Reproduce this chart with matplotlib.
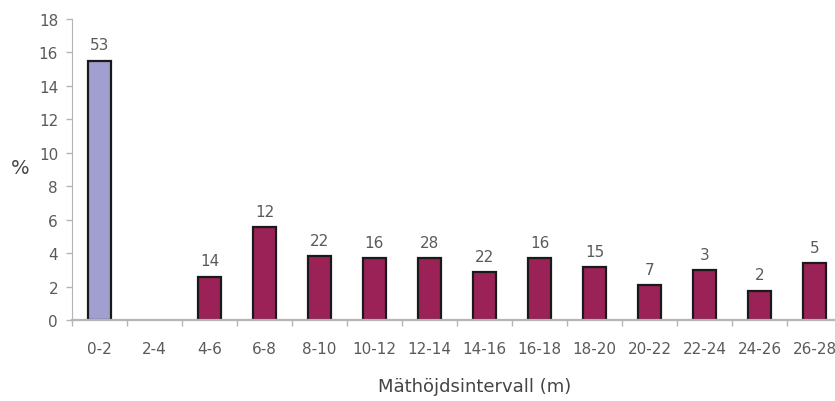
import matplotlib
matplotlib.use("Agg")
import matplotlib.pyplot as plt
import numpy as np

# height intervals, share of trees (%) and number of trees per interval
intervals = ["0-2", "2-4", "4-6", "6-8", "8-10", "10-12", "12-14",
             "14-16", "16-18", "18-20", "20-22", "22-24", "24-26", "26-28"]
percent = [15.5, 0, 2.6, 5.55, 3.8, 3.7, 3.7, 2.85, 3.7, 3.15, 2.1, 3.0, 1.75, 3.4]
counts = [53, None, 14, 12, 22, 16, 28, 22, 16, 15, 7, 3, 2, 5]

plt.rcParams['font.family'] = ['DejaVu Sans']
grey = "#5a5a5a"
axis_grey = "#b5b5b5"

fig = plt.figure(figsize=(8.35, 4.02), dpi=100)
ax = fig.add_axes([72 / 835, 81 / 402, 770 / 835, 301 / 402])

x = np.arange(len(intervals))
colors = ["#a09fcf"] + ["#9b2257"] * (len(intervals) - 1)
bars = ax.bar(x, percent, width=0.42, color=colors, edgecolor="#1a1a1a", linewidth=1.6, zorder=3)
# empty intervals get no outline
for b, p in zip(bars, percent):
    if p == 0:
        b.set_visible(False)

for xi, p, c in zip(x, percent, counts):
    if c is not None:
        ax.annotate(str(c), (xi, p), xytext=(0, 6), textcoords="offset points",
                    ha="center", va="bottom", fontsize=11, color=grey)

ax.set_xlim(-0.5, len(intervals) - 0.5)
ax.set_ylim(0, 18)
ax.set_yticks(range(0, 19, 2))
ax.tick_params(axis="y", colors=grey, labelsize=11, length=4, width=1, color=axis_grey, pad=6)

# category labels centred, ticks on the category boundaries
ax.set_xticks(x)
ax.set_xticklabels(intervals)
ax.tick_params(axis="x", which="major", length=0, colors=grey, labelsize=11, pad=15)
ax.set_xticks(np.arange(-0.5, len(intervals), 1), minor=True)
ax.tick_params(axis="x", which="minor", length=4, width=1, color=axis_grey)

for side in ["top", "right"]:
    ax.spines[side].set_visible(False)
ax.spines["left"].set_color(axis_grey)
ax.spines["bottom"].set_color(axis_grey)
ax.spines["bottom"].set_linewidth(1.6)
ax.spines["bottom"].set_zorder(4)

fig.text(475 / 835, 1 - 387 / 402, "Mäthöjdsintervall (m)", ha="center", va="center",
         fontsize=13, color="#444444")
fig.text(20 / 835, 1 - 169 / 402, "%", ha="center", va="center", fontsize=14, color="#444444")

fig.savefig("out.png", dpi=100)
